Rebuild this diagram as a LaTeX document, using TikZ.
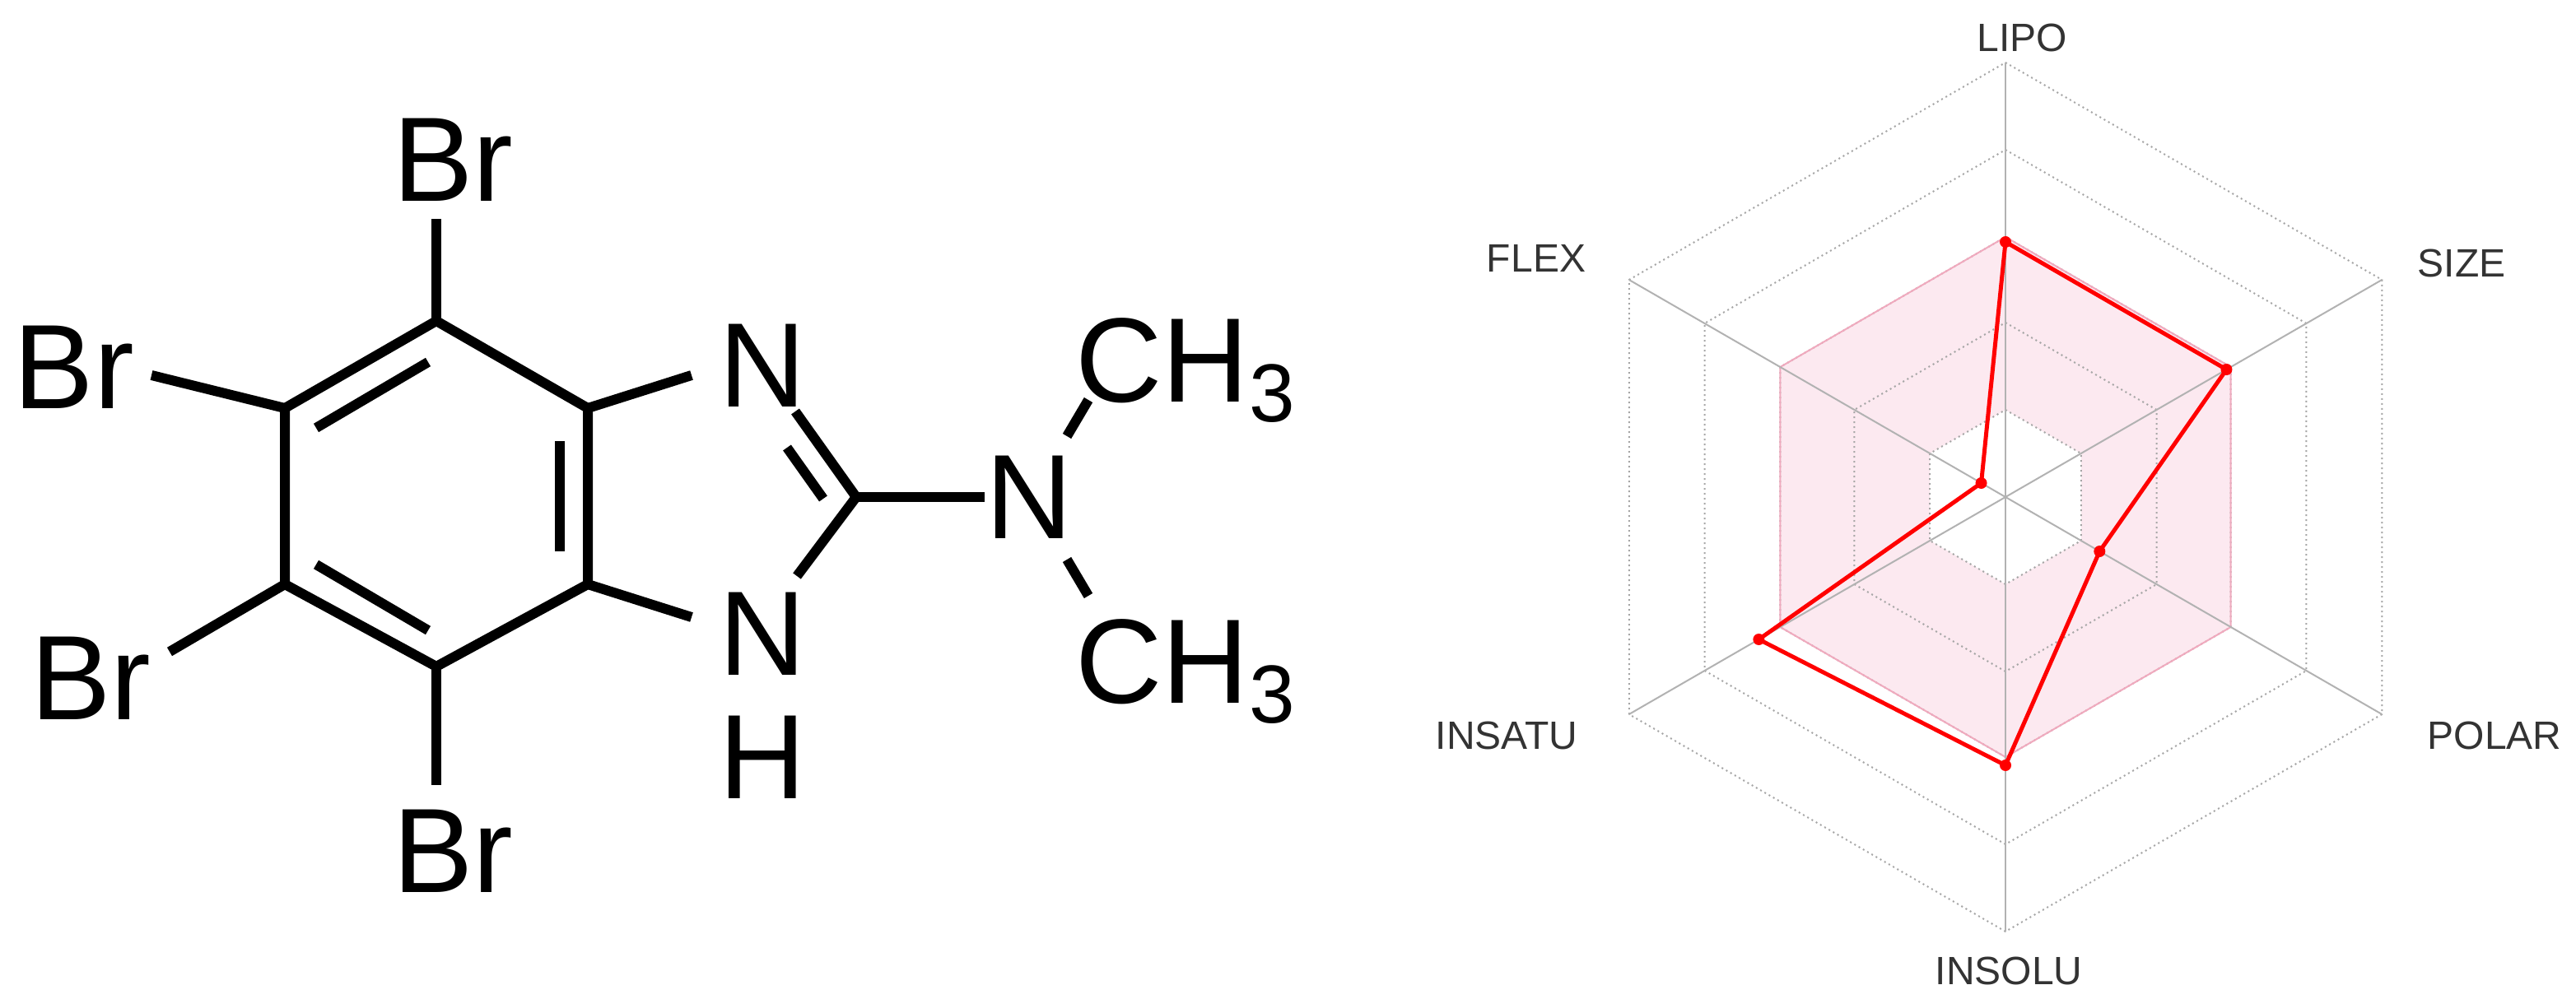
\documentclass[tikz,border=0pt]{standalone}
\usepackage{fontspec}
\setmainfont{Liberation Sans}
\definecolor{pinkfill}{RGB}{252,233,240}
\definecolor{pinkline}{RGB}{240,170,190}
\begin{document}
\begin{tikzpicture}[x=1pt,y=-1pt,
  atom/.style={font=\fontsize{73}{73}\selectfont, inner sep=0pt},
  bond/.style={line width=6pt, line cap=butt},
  lab/.style={font=\fontsize{24}{24}\selectfont, text=black!80},
  grid/.style={gray!70, dotted, line width=1pt},
  axisl/.style={gray!60, line width=1pt}]
\useasboundingbox (0,0) rectangle (1564.5,607);
% ring carbons
\coordinate (c1) at (265,195); \coordinate (c2) at (357,248);
\coordinate (c3) at (357,355); \coordinate (c4) at (265,405);
\coordinate (c5) at (173,355); \coordinate (c6) at (173,248);
\coordinate (c7) at (520,302);
\node[atom] (brt) at (275,97) {Br};
\node[atom] (brl) at (45,223) {Br};
\node[atom] (brb) at (55,412) {Br};
\node[atom] (brd) at (275,517) {Br};
\node[atom] (n3) at (463,222) {N};
\node[atom] (n1) at (463,385) {N};
\node[atom] (h1) at (463,460) {H};
\node[atom] (na) at (625,302) {N};
\node[atom,anchor=west] (m1) at (653,225) {CH\raisebox{-0.3ex}{\fontsize{50}{50}\selectfont 3}};
\node[atom,anchor=west] (m2) at (653,408) {CH\raisebox{-0.3ex}{\fontsize{50}{50}\selectfont 3}};
\draw[bond,line join=miter] (c1)--(c2)--(c3)--(c4)--(c5)--(c6)--cycle;
\draw[bond] (192,343) -- (260,383);
\draw[bond] (192,260) -- (260,220);
\draw[bond] (340,268) -- (340,335);
\draw[bond] (c1) -- (265,133);
\draw[bond] (c6) -- (92,228);
\draw[bond] (c5) -- (103,396);
\draw[bond] (c4) -- (265,477);
\draw[bond] (c2) -- (420,228);
\draw[bond] (c3) -- (420,375);
\draw[bond] (483,250) -- (c7);
\draw[bond] (478,272) -- (500,303);
\draw[bond] (c7) -- (484,350);
\draw[bond] (c7) -- (598,302);
\draw[bond] (648,265) -- (661,243);
\draw[bond] (648,340) -- (661,362);
% radar
\begin{scope}[shift={(1218,302)},x=1pt,y=1pt]
\fill[pinkfill,even odd rule] (90:158)--(30:158)--(-30:158)--(-90:158)--(210:158)--(150:158)--cycle
  (90:53)--(30:53)--(-30:53)--(-90:53)--(210:53)--(150:53)--cycle;
\foreach \r in {53,106,158,211,264}
  \draw[grid] (90:\r)--(30:\r)--(-30:\r)--(-90:\r)--(210:\r)--(150:\r)--cycle;
\draw[pinkline, line width=1pt] (90:158)--(30:158)--(-30:158)--(-90:158)--(210:158)--(150:158)--cycle;
\foreach \a in {90,30,-30,-90,210,150} \draw[axisl] (0,0)--(\a:264);
\coordinate (p1) at (90:155); \coordinate (p2) at (30:155);
\coordinate (p3) at (-30:66); \coordinate (p4) at (-90:163);
\coordinate (p5) at (210:173); \coordinate (p6) at (150:17);
\draw[red, line width=2.5pt, line join=round] (p1)--(p2)--(p3)--(p4)--(p5)--(p6)--cycle;
\foreach \p in {p1,p2,p3,p4,p5,p6} \fill[red] (\p) circle (3.5);
\end{scope}
\node[lab] (l1) at (1228,23) {LIPO};
\node[lab] (l2) at (1495,160) {SIZE};
\node[lab] (l3) at (1515,447) {POLAR};
\node[lab] (l4) at (1220,590) {INSOLU};
\node[lab] (l5) at (915,447) {INSATU};
\node[lab] (l6) at (933,157) {FLEX};
\end{tikzpicture}
\end{document}
